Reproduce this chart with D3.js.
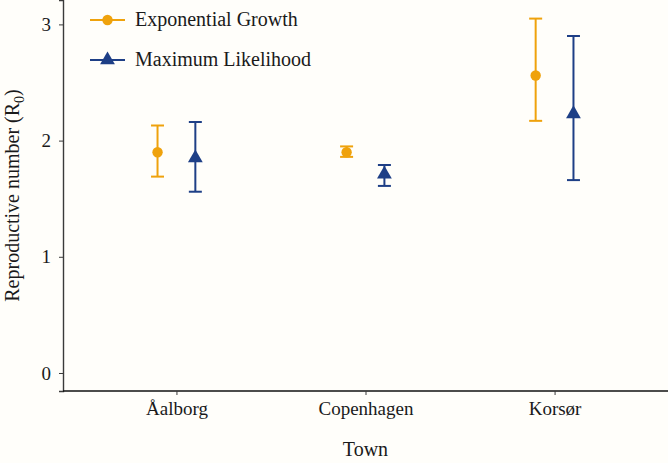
<!DOCTYPE html>
<html><head><meta charset="utf-8">
<script src="https://cdn.jsdelivr.net/npm/d3@7"></script>
<style>
html,body{margin:0;padding:0;background:#FFFEFA;}
svg text{font-family:"Times New Roman","Liberation Serif",Tinos,"DejaVu Serif","Noto Serif",Times,serif !important;}
</style></head>
<body>
<svg id="chart" width="668" height="463"></svg>
<script>
const towns = ["Åalborg", "Copenhagen", "Korsør"];
const methods = ["Exponential Growth", "Maximum Likelihood"];
const egEstimate = [1.90, 1.90, 2.56];
const egLower = [1.69, 1.86, 2.17];
const egUpper = [2.13, 1.95, 3.05];
const mlEstimate = [1.85, 1.71, 2.23];
const mlLower = [1.56, 1.61, 1.66];
const mlUpper = [2.16, 1.79, 2.90];
const yTicks = [0, 1, 2, 3];
const colors = ["#EFA20C", "#1E3F86"];

const rows = [];
towns.forEach((t, i) => {
  rows.push({town: t, method: methods[0], est: egEstimate[i], lo: egLower[i], hi: egUpper[i]});
  rows.push({town: t, method: methods[1], est: mlEstimate[i], lo: mlLower[i], hi: mlUpper[i]});
});

const W = 668, H = 463;
const m = {left: 63, right: 0, top: 0, bottom: 72};
const svg = d3.select("#chart");
svg.append("rect").attr("width", W).attr("height", H).attr("fill", "#FFFEFA");

const xc = d3.scaleLinear().domain([0.4, 3.6]).range([m.left, W - m.right]);
const dodge = d3.scaleOrdinal().domain(methods).range([-0.1, 0.1]);
const y = d3.scaleLinear().domain([-0.155, 3.21]).range([H - m.bottom, m.top]);
const color = d3.scaleOrdinal().domain(methods).range(colors);
const cx = d => xc(towns.indexOf(d.town) + 1 + dodge(d.method));
const FONT = "'Times New Roman','Liberation Serif',Tinos,'DejaVu Serif',serif";

const yAxis = svg.append("g").attr("transform", `translate(${m.left},0)`)
  .call(d3.axisLeft(y).tickValues(yTicks).tickSize(4).tickPadding(8).tickFormat(d3.format("d")));
yAxis.attr("font-family", FONT);
yAxis.select(".domain").attr("stroke", "#3a3a3a").attr("stroke-width", 1.4);
yAxis.selectAll(".tick line").attr("stroke", "#3a3a3a");
yAxis.selectAll(".tick text").attr("font-size", 19).attr("fill", "#1a1a1a");

const xAxis = svg.append("g").attr("transform", `translate(0,${H - m.bottom})`)
  .call(d3.axisBottom(xc).tickValues([1, 2, 3]).tickFormat(d => towns[d - 1]).tickSize(4).tickPadding(7));
xAxis.attr("font-family", FONT);
xAxis.select(".domain").attr("stroke", "#111").attr("stroke-width", 1.4).attr("d", `M${m.left},0H${W}`);
xAxis.selectAll(".tick line").attr("stroke", "#3a3a3a");
xAxis.selectAll(".tick text").attr("font-size", 19).attr("fill", "#1a1a1a");

svg.append("text").attr("x", (m.left + W) / 2).attr("y", 456).attr("text-anchor", "middle")
  .attr("font-size", 20).attr("fill", "#1a1a1a").text("Town");
const yl = svg.append("text").attr("transform", `translate(19,${(H - m.bottom) / 2}) rotate(-90)`)
  .attr("text-anchor", "middle").attr("font-size", 20).attr("fill", "#1a1a1a");
yl.append("tspan").text("Reproductive number (R");
yl.append("tspan").attr("font-size", 14).attr("dy", 5).text("0");
yl.append("tspan").attr("dy", -5).text(")");

const capW = 6.5;
const g = svg.append("g");
const eb = g.selectAll(".eb").data(rows).enter().append("g").attr("stroke", d => color(d.method)).attr("stroke-width", 2);
eb.append("line").attr("x1", cx).attr("x2", cx).attr("y1", d => y(d.lo)).attr("y2", d => y(d.hi));
eb.append("line").attr("x1", d => cx(d) - capW).attr("x2", d => cx(d) + capW).attr("y1", d => y(d.hi)).attr("y2", d => y(d.hi));
eb.append("line").attr("x1", d => cx(d) - capW).attr("x2", d => cx(d) + capW).attr("y1", d => y(d.lo)).attr("y2", d => y(d.lo));

const sym = d3.scaleOrdinal().domain(methods).range([d3.symbolCircle, d3.symbolTriangle]);
const size = d3.scaleOrdinal().domain(methods).range([85, 95]);
g.selectAll(".pt").data(rows).enter().append("path")
  .attr("d", d => d3.symbol().type(sym(d.method)).size(size(d.method))())
  .attr("transform", d => `translate(${cx(d)},${y(d.est)})`)
  .attr("fill", d => color(d.method));

const lg = svg.append("g");
methods.forEach((mth, i) => {
  const ly = 20 + i * 40;
  lg.append("line").attr("x1", 90).attr("x2", 125).attr("y1", ly).attr("y2", ly)
    .attr("stroke", color(mth)).attr("stroke-width", 2);
  lg.append("path").attr("d", d3.symbol().type(sym(mth)).size(size(mth))())
    .attr("transform", `translate(107.5,${ly})`).attr("fill", color(mth));
  lg.append("text").attr("x", 135).attr("y", ly + 6).attr("font-size", 20).attr("fill", "#1a1a1a").text(mth);
});
</script>
</body></html>
